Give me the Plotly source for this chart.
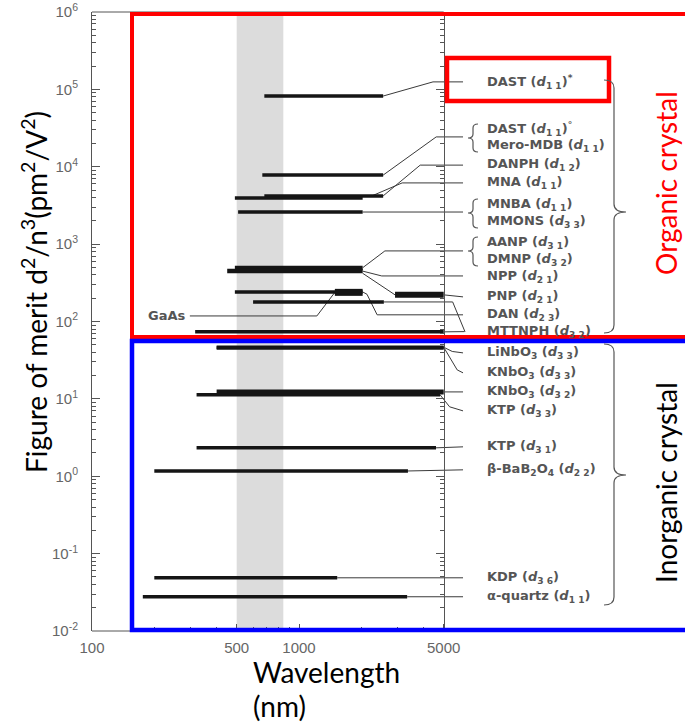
import math
import plotly.graph_objects as go

# ---------------- data ----------------
# transparency range (nm) and figure of merit d^2/n^3 (pm^2/V^2) of each bar
bar_name = ["DAST d11 *", "DAST d11 o / Mero-MDB", "DANPH d12", "MNA d11", "MNBA / MMONS",
            "AANP / DMNP", "NPP d21", "PNP d21", "DAN d23", "GaAs",
            "MTTNPH d32", "MTTNPH (long)",
            "LiNbO3 d33", "KNbO3 d33", "KNbO3 d32", "KTP d33", "KTP d31",
            "beta-BaB2O4 d22", "KDP d36", "alpha-quartz d11"]
bar_lo = [680, 665, 680, 490, 508, 490, 450, 2910, 490, 1490, 600, 315,
          400, 400, 400, 320, 320, 200, 200, 176]
bar_hi = [2550, 2550, 2550, 2030, 2030, 2030, 2030, 5000, 2030, 2030, 2570, 5000,
          5000, 5000, 5000, 4800, 4590, 3360, 1530, 3330]
bar_val = [82000, 7800, 4200, 3950, 2600, 492, 451, 221, 241, 238, 179, 73.5,
           46.5, 45.5, 12.3, 11.3, 2.33, 1.17, 0.0487, 0.0277]

# labels on the right (text, vertical position as log10 of figure of merit)
label_text = [
    "DAST (<i>d</i><sub>1 1</sub>)<sup>*</sup>",
    "DAST (<i>d</i><sub>1 1</sub>)<sup>°</sup>",
    "Mero-MDB (<i>d</i><sub>1 1</sub>)",
    "DANPH (<i>d</i><sub>1 2</sub>)",
    "MNA (<i>d</i><sub>1 1</sub>)",
    "MNBA (<i>d</i><sub>1 1</sub>)",
    "MMONS (<i>d</i><sub>3 3</sub>)",
    "AANP (<i>d</i><sub>3 1</sub>)",
    "DMNP (<i>d</i><sub>3 2</sub>)",
    "NPP (<i>d</i><sub>2 1</sub>)",
    "PNP (<i>d</i><sub>2 1</sub>)",
    "DAN (<i>d</i><sub>2 3</sub>)",
    "MTTNPH (<i>d</i><sub>3 2</sub>)",
    "LiNbO<sub>3</sub> (<i>d</i><sub>3 3</sub>)",
    "KNbO<sub>3</sub> (<i>d</i><sub>3 3</sub>)",
    "KNbO<sub>3</sub> (<i>d</i><sub>3 2</sub>)",
    "KTP (<i>d</i><sub>3 3</sub>)",
    "KTP (<i>d</i><sub>3 1</sub>)",
    "β-BaB<sub>2</sub>O<sub>4</sub> (<i>d</i><sub>2 2</sub>)",
    "KDP (<i>d</i><sub>3 6</sub>)",
    "α-quartz (<i>d</i><sub>1 1</sub>)",
]
label_logy = [5.096, 4.488, 4.269, 4.023, 3.791, 3.506, 3.287, 3.016, 2.796, 2.576,
              2.318, 2.085, 1.866, 1.594, 1.336, 1.090, 0.845, 0.380, 0.083, -1.313, -1.558]

# leader lines from bar ends to labels (wavelength nm, figure of merit)
conn_x = [[2550, 4440, 6200], [2550, 4600, 6200], [2550, 3850, 6200], [2250, 3150, 6200],
          [2030, 6200], [2030, 2600, 6200], [2030, 2510, 6200], [2030, 2910],
          [5000, 6200], [2030, 2130, 2385, 6200], [2570, 5525, 6340], [5000, 6300],
          [5000, 5500, 6200], [5000, 5810, 6200], [5000, 6200], [4800, 5340, 6200],
          [4590, 6200], [3360, 6200], [1530, 6200], [3330, 6200], [297, 1220, 1490]]
conn_y = [[82000, 1.25e5, 1.25e5], [7800, 2.43e4, 2.43e4], [4200, 1.05e4, 1.05e4],
          [4200, 6180, 6180], [2600, 2600], [495, 817, 817], [448, 388, 388], [420, 221],
          [221, 208], [241, 225, 122, 122], [179, 179, 73.5], [73.5, 74],
          [46.5, 41, 39.3], [46.5, 23.7, 21.7], [12.3, 12.3], [11.3, 7.9, 7.0],
          [2.33, 2.40], [1.17, 1.21], [0.0487, 0.0487], [0.0277, 0.0277], [118, 118, 238]]

band_nm = [500, 840]                       # visible region band
x_tick_vals = [100, 500, 1000, 5000]
x_tick_text = ["100", "500", "1000", "5000"]
y_tick_exp = list(range(-2, 7))

# ---------------- styles / layout ----------------
bar_w = [3.5, 3.5, 3.5, 3.5, 3.5, 4.5, 4.5, 6, 3.5, 7, 3.5, 3.5, 3.5, 3.5, 5, 3.5, 3.5, 3.5, 3.5, 3.5]
W, H = 685, 725
ML, MT, MB = 92, 12, 94
PW, PH = W - ML, H - MT - MB
PX_PER_DEC = 207.0
X_MAX = 2 + PW / PX_PER_DEC


def xp(px):
    return (px - ML) / PW


def yp(py):
    return (MT + PH - py) / PH


fig = go.Figure()

# visible band
fig.add_trace(go.Scatter(x=[band_nm[0], band_nm[1], band_nm[1], band_nm[0], band_nm[0]],
                         y=[1e-2, 1e-2, 1e6, 1e6, 1e-2], fill="toself",
                         fillcolor="#dcdcdc", line=dict(width=0), mode="lines",
                         hoverinfo="skip", showlegend=False))

# leader lines
for cx, cy in zip(conn_x, conn_y):
    fig.add_trace(go.Scatter(x=cx, y=cy, mode="lines", line=dict(color="#3a3a3a", width=1),
                             hoverinfo="skip", showlegend=False))

# bars
for lo, hi, v, w in zip(bar_lo, bar_hi, bar_val, bar_w):
    fig.add_trace(go.Scatter(x=[lo, hi], y=[v, v], mode="lines",
                             line=dict(color="#151515", width=w),
                             hoverinfo="skip", showlegend=False))

# dummy for right frame axis
fig.add_trace(go.Scatter(x=[None], y=[None], yaxis="y2", showlegend=False, hoverinfo="skip"))

minor_y = [k * 10.0 ** e for e in range(-2, 6) for k in range(2, 10)]
minor_x = [200, 300, 400, 600, 700, 800, 900, 2000, 3000, 4000]
tickfont = dict(family="Liberation Sans, Arial", size=15, color="#666")

fig.update_layout(
    width=W, height=H,
    margin=dict(l=ML, r=0, t=MT, b=MB, pad=0),
    paper_bgcolor="white", plot_bgcolor="white",
    showlegend=False,
    xaxis=dict(type="log", range=[2, X_MAX], showgrid=False, zeroline=False, showline=False,
               tickmode="array", tickvals=x_tick_vals, ticktext=x_tick_text,
               ticks="inside", ticklen=7, tickcolor="#555", tickfont=tickfont,
               ticklabelstandoff=6,
               minor=dict(tickmode="array", tickvals=minor_x, ticks="inside", ticklen=4,
                          tickcolor="#555")),
    yaxis=dict(type="log", range=[-2, 6], showgrid=False, zeroline=False,
               showline=True, linecolor="#555", linewidth=1,
               tickmode="array", tickvals=[10.0 ** e for e in y_tick_exp],
               ticktext=["10<sup>%d</sup>" % e for e in y_tick_exp],
               ticks="inside", ticklen=8, tickcolor="#555", tickfont=tickfont,
               ticklabelstandoff=10,
               minor=dict(tickmode="array", tickvals=minor_y, ticks="inside", ticklen=4,
                          tickcolor="#555")),
    yaxis2=dict(type="log", range=[-2, 6], overlaying="y", anchor="free",
                position=xp(ML + PX_PER_DEC * math.log10(50)), side="right",
                showgrid=False, zeroline=False, showline=True, linecolor="#555", linewidth=1,
                tickmode="array", tickvals=[10.0 ** e for e in y_tick_exp],
                ticks="inside", ticklen=8, tickcolor="#555", showticklabels=False,
                minor=dict(tickmode="array", tickvals=minor_y, ticks="inside", ticklen=4,
                           tickcolor="#555")),
)

p5000 = xp(ML + PX_PER_DEC * math.log10(50))
shapes = [
    dict(type="line", xref="paper", yref="paper", x0=0, x1=p5000, y0=1, y1=1,
         line=dict(color="#555", width=1)),
    dict(type="line", xref="paper", yref="paper", x0=0, x1=p5000, y0=0, y1=0,
         line=dict(color="#555", width=1)),
    # red (organic) and blue (inorganic) boxes
    dict(type="rect", xref="paper", yref="paper", x0=xp(132), x1=1.05, y0=yp(337), y1=yp(14),
         line=dict(color="#ff0000", width=4)),
    dict(type="rect", xref="paper", yref="paper", x0=xp(132), x1=1.05, y0=yp(630), y1=yp(341),
         line=dict(color="#0000ff", width=4.5)),
    dict(type="rect", xref="paper", yref="paper", x0=xp(447), x1=xp(609), y0=yp(101), y1=yp(58),
         line=dict(color="#ff0000", width=4.5)),
]


def brace(x0, x1, xt, ytop, ymid, ybot, r=8):
    pts = [("M", x0, ytop), ("Q", x1, ytop), ("", x1, ytop + r), ("L", x1, ymid - r),
           ("Q", x1, ymid), ("", xt, ymid), ("Q", x1, ymid), ("", x1, ymid + r),
           ("L", x1, ybot - r), ("Q", x1, ybot), ("", x0, ybot)]
    s = ""
    for c, x, y in pts:
        s += "%s%.5f,%.5f " % (c + " " if c else "", xp(x), yp(y))
    return s.strip()


for (x0, x1, xt, t, m, b, r) in [(604, 614, 626, 80, 212, 333, 8), (604, 614, 626, 344, 475, 605, 8),
                                 (478, 473, 468, 124, 138, 152, 4), (478, 473, 468, 199, 213, 228, 4),
                                 (478, 473, 468, 237, 251, 266, 4)]:
    shapes.append(dict(type="path", xref="paper", yref="paper", path=brace(x0, x1, xt, t, m, b, r),
                       line=dict(color="#555", width=1.2)))
fig.update_layout(shapes=shapes)

annos = []
lab_font = dict(family="DejaVu Sans", size=13, color="#555", weight="bold")
for txt, ly in zip(label_text, label_logy):
    annos.append(dict(text=txt, xref="paper", yref="y", x=xp(485), y=ly, xanchor="left",
                      yanchor="middle", showarrow=False, font=lab_font))
annos.append(dict(text="GaAs", xref="x", yref="y", x=math.log10(291), y=math.log10(118),
                  xanchor="right", yanchor="middle", showarrow=False, font=lab_font))
title_font = dict(family="Lato, Carlito, Calibri", size=28, color="black")
annos += [
    dict(text="Figure of merit d<sup>2</sup>/n<sup>3</sup>(pm<sup>2</sup>/V<sup>2</sup>)",
         xref="paper", yref="paper", x=xp(34), y=yp(292), textangle=-90,
         xanchor="center", yanchor="middle", showarrow=False, font=title_font),
    dict(text="Wavelength", xref="paper", yref="paper", x=xp(251), y=yp(672),
         xanchor="left", yanchor="middle", showarrow=False, font=title_font),
    dict(text="(nm)", xref="paper", yref="paper", x=xp(251), y=yp(706),
         xanchor="left", yanchor="middle", showarrow=False, font=title_font),
    dict(text="Organic crystal", xref="paper", yref="paper", x=xp(666), y=yp(183),
         textangle=-90, xanchor="center", yanchor="middle", showarrow=False,
         font=dict(family="Lato, Carlito, Calibri", size=28, color="#ff0000")),
    dict(text="Inorganic crystal", xref="paper", yref="paper", x=xp(666), y=yp(483),
         textangle=-90, xanchor="center", yanchor="middle", showarrow=False,
         font=dict(family="Lato, Carlito, Calibri", size=28, color="black")),
]
fig.update_layout(annotations=annos)

fig.write_html("out.html")
